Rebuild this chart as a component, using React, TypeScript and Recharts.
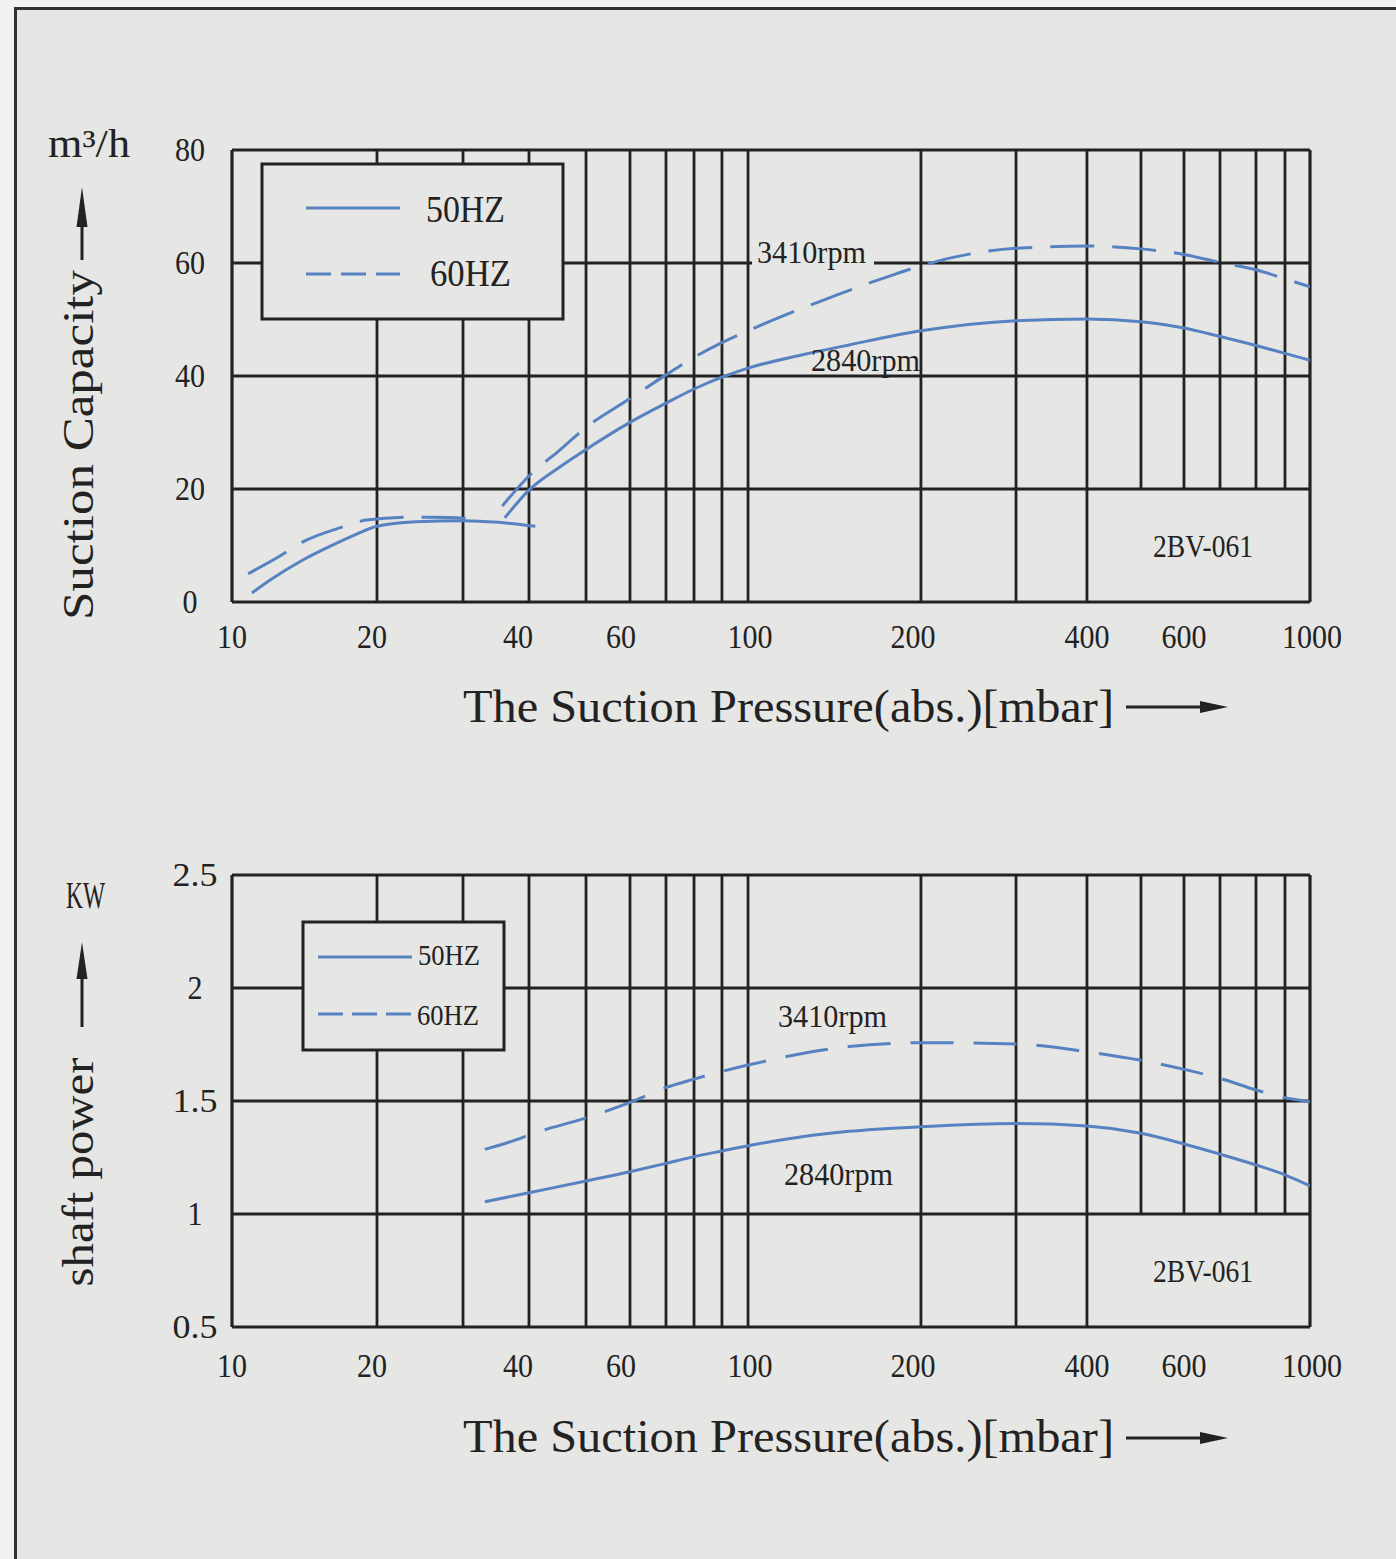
import React from 'react';
import { LineChart, Line, XAxis, YAxis, ReferenceLine } from 'recharts';

// ---- pressure axis (the printed chart uses a hand-drawn, log-like grid) ----
const GRID_P = [10, 20, 30, 40, 50, 60, 70, 80, 90, 100, 200, 300, 400, 500, 600, 700, 800, 900, 1000];
const GRID_U = [0, 134.5, 214.3, 275.5, 328.4, 369.2, 402.6, 428.6, 454.5, 478.7, 639.1, 727.3, 793.1, 843.2, 883.1, 916.5, 949.9, 976.8, 1000];
const X_TICKS = [10, 20, 40, 60, 100, 200, 400, 600, 1000];

// ---- capacity chart (m3/h) ----
const CAP_TICKS = [0, 20, 40, 60, 80];
const CAP_H_LINES = [20, 40, 60];
const CAP_50_LOW = [
  { p: 11, v: 1.6 }, { p: 12, v: 3.9 }, { p: 14, v: 7.4 }, { p: 16, v: 9.9 }, { p: 18, v: 11.9 },
  { p: 20, v: 13.4 }, { p: 24, v: 14.2 }, { p: 30, v: 14.4 }, { p: 35, v: 14.1 }, { p: 41, v: 13.4 },
];
const CAP_60_LOW = [
  { p: 10.8, v: 5.0 }, { p: 12.5, v: 8.0 }, { p: 14, v: 10.6 }, { p: 17, v: 13.3 }, { p: 19, v: 14.5 },
  { p: 23.5, v: 15.0 }, { p: 26, v: 15.0 }, { p: 32, v: 14.7 },
];
const CAP_50 = [
  { p: 36, v: 14.9 }, { p: 40, v: 19.8 }, { p: 45, v: 23.8 }, { p: 50, v: 27.0 }, { p: 60, v: 31.8 },
  { p: 70, v: 35.2 }, { p: 80, v: 37.7 }, { p: 90, v: 39.8 }, { p: 100, v: 41.4 }, { p: 125, v: 43.8 },
  { p: 150, v: 45.5 }, { p: 200, v: 48.0 }, { p: 300, v: 49.8 }, { p: 400, v: 50.1 }, { p: 500, v: 49.6 },
  { p: 600, v: 48.5 }, { p: 700, v: 47.0 }, { p: 800, v: 45.4 }, { p: 900, v: 44.0 }, { p: 1000, v: 42.8 },
];
const CAP_60 = [
  { p: 35.6, v: 17.0 }, { p: 40, v: 22.3 }, { p: 45, v: 26.8 }, { p: 50, v: 30.9 }, { p: 60, v: 36.0 },
  { p: 70, v: 40.2 }, { p: 80, v: 43.3 }, { p: 90, v: 45.9 }, { p: 100, v: 48.0 }, { p: 120, v: 51.4 },
  { p: 140, v: 54.0 }, { p: 160, v: 56.2 }, { p: 180, v: 58.0 }, { p: 200, v: 59.5 }, { p: 250, v: 61.7 },
  { p: 300, v: 62.6 }, { p: 400, v: 63.0 }, { p: 500, v: 62.5 }, { p: 600, v: 61.5 }, { p: 700, v: 60.1 },
  { p: 800, v: 58.8 }, { p: 900, v: 57.2 }, { p: 1000, v: 55.8 },
];

// ---- shaft power chart (kW) ----
const POW_TICKS = [0.5, 1, 1.5, 2, 2.5];
const POW_H_LINES = [1, 1.5, 2];
const POW_50 = [
  { p: 33, v: 1.054 }, { p: 40, v: 1.094 }, { p: 50, v: 1.146 }, { p: 60, v: 1.187 }, { p: 70, v: 1.224 },
  { p: 80, v: 1.254 }, { p: 90, v: 1.279 }, { p: 100, v: 1.302 }, { p: 125, v: 1.343 }, { p: 150, v: 1.366 },
  { p: 200, v: 1.386 }, { p: 300, v: 1.4 }, { p: 400, v: 1.389 }, { p: 500, v: 1.357 }, { p: 600, v: 1.31 },
  { p: 700, v: 1.265 }, { p: 800, v: 1.217 }, { p: 900, v: 1.173 }, { p: 1000, v: 1.124 },
];
const POW_60 = [
  { p: 33, v: 1.286 }, { p: 38, v: 1.33 }, { p: 40, v: 1.35 }, { p: 50, v: 1.425 }, { p: 60, v: 1.494 },
  { p: 70, v: 1.56 }, { p: 80, v: 1.597 }, { p: 90, v: 1.631 }, { p: 100, v: 1.659 }, { p: 150, v: 1.741 },
  { p: 200, v: 1.758 }, { p: 300, v: 1.752 }, { p: 400, v: 1.718 }, { p: 500, v: 1.68 }, { p: 600, v: 1.64 },
  { p: 700, v: 1.6 }, { p: 800, v: 1.549 }, { p: 900, v: 1.515 }, { p: 1000, v: 1.497 },
];

// small horizontal nudges of the printed tick labels relative to their grid lines (style only)
const X_LABEL_NUDGE: Record<string, number> = { '10': 0, '20': -5, '40': -11, '60': -9, '100': 2, '200': -8, '400': 0, '600': 0, '1000': 2 };

const BG = '#e6e6e4';
const OUTER = '#f1f1f1';
const INK = '#222222';
const BLUE = '#5682c2';
const FONT = '"Liberation Serif", "DejaVu Serif", serif';

function warp(p: number): number {
  if (p <= GRID_P[0]) return GRID_U[0];
  for (let i = 0; i < GRID_P.length - 1; i++) {
    const a = GRID_P[i];
    const b = GRID_P[i + 1];
    if (p <= b) {
      const t = Math.log(p / a) / Math.log(b / a);
      return GRID_U[i] + t * (GRID_U[i + 1] - GRID_U[i]);
    }
  }
  return GRID_U[GRID_U.length - 1];
}

const xLabelFor = (u: number) => {
  let best = X_TICKS[0];
  let d = Infinity;
  for (const t of X_TICKS) {
    const dd = Math.abs(warp(t) - u);
    if (dd < d) { d = dd; best = t; }
  }
  return String(best);
};

const makeXTick = (baseY: number) => (props: any) => {
  const { x, payload } = props;
  const label = xLabelFor(payload.value);
  return (
    <text x={x + (X_LABEL_NUDGE[label] || 0)} y={baseY} textAnchor="middle" fontFamily={FONT} fontSize={33} fill={INK}
      textLength={label.length * 15} lengthAdjust="spacingAndGlyphs">{label}</text>
  );
};

const makeYTick = (cx: number) => (props: any) => {
  const { y, payload } = props;
  const label = String(payload.value);
  return (
    <text x={cx} y={y + 11} textAnchor="middle" fontFamily={FONT} fontSize={33} fill={INK}
      textLength={label.length * 15} lengthAdjust="spacingAndGlyphs">{label}</text>
  );
};

function gridLines(yMin: number, yMax: number, yCut: number, hLines: number[]) {
  const out: any[] = [];
  GRID_P.slice(1, -1).forEach((p) => {
    const lo = p > 400 ? yCut : yMin;
    out.push(
      <ReferenceLine key={'v' + p} segment={[{ x: warp(p), y: lo }, { x: warp(p), y: yMax }]}
        stroke={INK} strokeWidth={2.8} />
    );
  });
  hLines.forEach((v) => {
    out.push(<ReferenceLine key={'h' + v} y={v} stroke={INK} strokeWidth={2.8} />);
  });
  out.push(<ReferenceLine key="bl" x={0} stroke={INK} strokeWidth={3.2} />);
  out.push(<ReferenceLine key="br" x={1000} stroke={INK} strokeWidth={3.2} />);
  out.push(<ReferenceLine key="bb" y={yMin} stroke={INK} strokeWidth={3.2} />);
  out.push(<ReferenceLine key="bt" y={yMax} stroke={INK} strokeWidth={3.2} />);
  return out;
}

const lineProps = {
  type: 'monotone' as const,
  dataKey: 'v',
  stroke: BLUE,
  strokeWidth: 3,
  dot: false,
  activeDot: false,
  isAnimationActive: false,
};

const T = (p: any) => (
  <text fontFamily={FONT} fill={INK} lengthAdjust="spacingAndGlyphs" {...p} />
);

function Overlay() {
  return (
    <svg width={1396} height={1559} style={{ position: 'absolute', left: 0, top: 0, pointerEvents: 'none' }}>
      <rect x={0} y={0} width={1396} height={7} fill={OUTER} />
      <rect x={0} y={0} width={14} height={1559} fill={OUTER} />
      <line x1={14} y1={8.5} x2={1396} y2={8.5} stroke="#333" strokeWidth={3} />
      <line x1={15.5} y1={7} x2={15.5} y2={1559} stroke="#333" strokeWidth={3} />

      {/* ---- capacity chart titles ---- */}
      <T x={48} y={157} fontSize={40} textLength={82}>m³/h</T>
      <line x1={82} y1={260} x2={82} y2={222} stroke={INK} strokeWidth={3} />
      <polygon points="76.5,227 82,187 87.5,227" fill={INK} />
      <T transform="translate(93,445) rotate(-90)" x={0} y={0} textAnchor="middle" fontSize={44} textLength={350}>Suction Capacity</T>
      <T x={463} y={722} fontSize={46} textLength={651}>The Suction Pressure(abs.)[mbar]</T>
      <line x1={1126} y1={707} x2={1206} y2={707} stroke={INK} strokeWidth={3} />
      <polygon points="1200,701 1228,707 1200,713" fill={INK} />

      {/* capacity legend */}
      <rect x={262} y={164} width={301} height={155} fill={BG} stroke={INK} strokeWidth={3} />
      <line x1={306} y1={208} x2={400} y2={208} stroke={BLUE} strokeWidth={3} />
      <T x={426} y={222} fontSize={38} textLength={79}>50HZ</T>
      <line x1={306} y1={274} x2={400} y2={274} stroke={BLUE} strokeWidth={3} strokeDasharray="25 10" />
      <T x={430} y={286} fontSize={38} textLength={81}>60HZ</T>

      {/* capacity annotations */}
      <rect x={752} y={259} width={122} height={8} fill={BG} />
      <T x={757} y={263} fontSize={32} textLength={109}>3410rpm</T>
      <T x={811} y={371} fontSize={32} textLength={109}>2840rpm</T>
      <T x={1153} y={557} fontSize={32} textLength={100}>2BV-061</T>

      {/* ---- power chart titles ---- */}
      <T x={66} y={908} fontSize={38} textLength={39}>KW</T>
      <line x1={82} y1={1027} x2={82} y2={975} stroke={INK} strokeWidth={3} />
      <polygon points="76.5,979 82,942 87.5,979" fill={INK} />
      <T transform="translate(93,1172) rotate(-90)" x={0} y={0} textAnchor="middle" fontSize={44} textLength={229}>shaft power</T>
      <T x={463} y={1452} fontSize={46} textLength={651}>The Suction Pressure(abs.)[mbar]</T>
      <line x1={1126} y1={1438} x2={1206} y2={1438} stroke={INK} strokeWidth={3} />
      <polygon points="1200,1432 1228,1438 1200,1444" fill={INK} />

      {/* power legend */}
      <rect x={303} y={922} width={201} height={128} fill={BG} stroke={INK} strokeWidth={3} />
      <line x1={318} y1={957} x2={412} y2={957} stroke={BLUE} strokeWidth={3} />
      <T x={418} y={965} fontSize={30} textLength={62}>50HZ</T>
      <line x1={318} y1={1014} x2={416} y2={1014} stroke={BLUE} strokeWidth={3} strokeDasharray="25 9" />
      <T x={417} y={1025} fontSize={30} textLength={62}>60HZ</T>

      {/* power annotations */}
      <T x={778} y={1027} fontSize={32} textLength={109}>3410rpm</T>
      <T x={784} y={1185} fontSize={32} textLength={109}>2840rpm</T>
      <T x={1153} y={1282} fontSize={32} textLength={100}>2BV-061</T>
    </svg>
  );
}

export default function App() {
  const xKey = (d: any) => warp(d.p);
  return (
    <div style={{ position: 'absolute', left: 0, top: 0, width: 1396, height: 1559, background: BG, overflow: 'hidden' }}>
      <div style={{ position: 'absolute', left: 0, top: 0 }}>
        <LineChart width={1396} height={760} margin={{ top: 150, right: 86, bottom: 118, left: 172 }}>
          <XAxis type="number" dataKey={xKey} domain={[0, 1000]} ticks={X_TICKS.map(warp)} interval={0}
            tick={makeXTick(648)} tickLine={false} axisLine={false} height={40} allowDataOverflow />
          <YAxis type="number" domain={[0, 80]} ticks={CAP_TICKS} interval={0} width={60}
            tick={makeYTick(190)} tickLine={false} axisLine={false} allowDataOverflow />
          {gridLines(0, 80, 20, CAP_H_LINES)}
          <Line {...lineProps} data={CAP_50_LOW} name="50HZ low" />
          <Line {...lineProps} data={CAP_60_LOW} name="60HZ low" strokeDasharray="44 18" />
          <Line {...lineProps} data={CAP_50} name="50HZ" />
          <Line {...lineProps} data={CAP_60} name="60HZ" strokeDasharray="44 18" />
        </LineChart>
      </div>
      <div style={{ position: 'absolute', left: 0, top: 760 }}>
        <LineChart width={1396} height={799} margin={{ top: 115, right: 86, bottom: 192, left: 172 }}>
          <XAxis type="number" dataKey={xKey} domain={[0, 1000]} ticks={X_TICKS.map(warp)} interval={0}
            tick={makeXTick(617)} tickLine={false} axisLine={false} height={40} allowDataOverflow />
          <YAxis type="number" domain={[0.5, 2.5]} ticks={POW_TICKS} interval={0} width={60}
            tick={makeYTick(195)} tickLine={false} axisLine={false} allowDataOverflow />
          {gridLines(0.5, 2.5, 1, POW_H_LINES)}
          <Line {...lineProps} data={POW_50} name="50HZ" />
          <Line {...lineProps} data={POW_60} name="60HZ" strokeDasharray="43 20" />
        </LineChart>
      </div>
      <Overlay />
    </div>
  );
}
